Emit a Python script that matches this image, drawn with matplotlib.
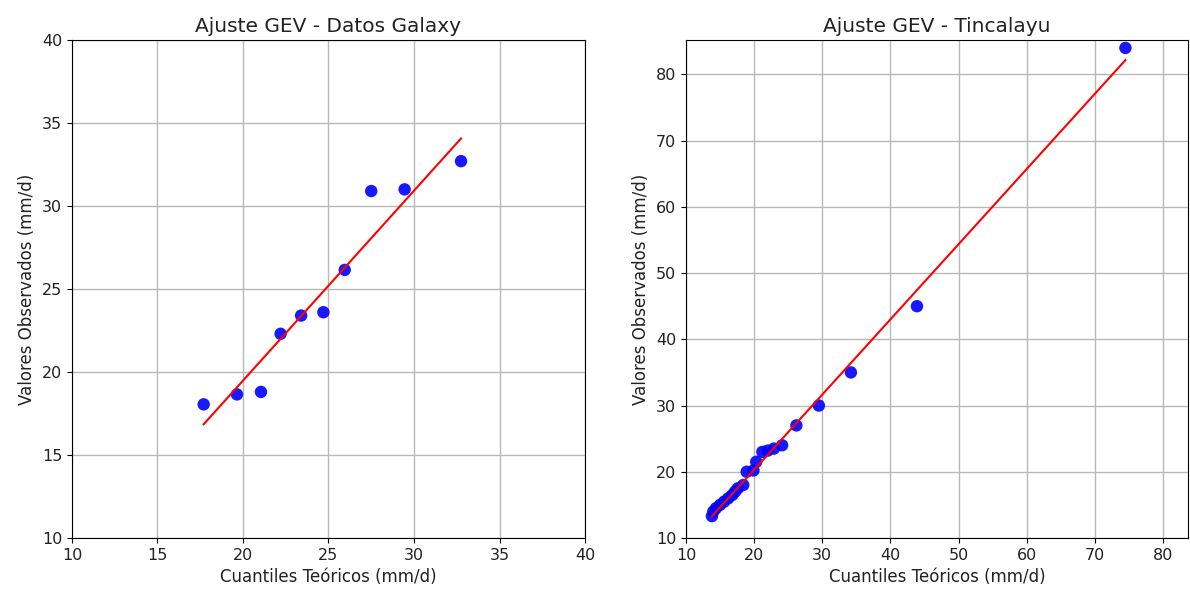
import matplotlib
matplotlib.use('Agg')
import matplotlib.pyplot as plt
import numpy as np

plt.rcParams['font.family'] = ['DejaVu Sans']

# Datos Galaxy
teo_galaxy = np.array([17.7, 19.65, 21.05, 22.2, 23.4, 24.7, 25.95, 27.5, 29.45, 32.75])
obs_galaxy = np.array([18.05, 18.65, 18.8, 22.3, 23.4, 23.6, 26.15, 30.9, 31.0, 32.7])

# Tincalayu
teo_tinca = np.array([13.8, 14.0, 14.4, 15.0, 15.6, 16.2, 16.8, 17.2, 17.6, 18.4, 18.9,
                      19.9, 20.3, 21.2, 22.0, 22.9, 24.1, 26.2, 29.5, 34.2, 43.9, 74.5])
obs_tinca = np.array([13.3, 14.0, 14.5, 15.0, 15.5, 16.0, 16.5, 17.0, 17.5, 18.0, 20.0,
                      20.2, 21.5, 23.0, 23.2, 23.5, 24.0, 27.0, 30.0, 35.0, 45.0, 84.0])

fig = plt.figure(figsize=(11.9, 5.95), dpi=100)
ax1 = fig.add_axes([0.0605, 0.0958, 0.4311, 0.8370])
ax2 = fig.add_axes([0.5765, 0.0958, 0.4219, 0.8370])

def qq(ax, teo, obs, titulo):
    ax.scatter(teo, obs, color='blue', s=80, alpha=0.9, edgecolors='none', zorder=3)
    m, b = np.polyfit(teo, obs, 1)
    xs = np.array([teo.min(), teo.max()])
    ax.plot(xs, m * xs + b, color='red', lw=1.5, zorder=4)
    ax.set_title(titulo, fontsize=14.5, color='#222222')
    ax.set_xlabel('Cuantiles Teóricos (mm/d)', fontsize=12, color='#222222')
    ax.set_ylabel('Valores Observados (mm/d)', fontsize=12, color='#222222')
    ax.tick_params(labelsize=11.5, labelcolor='#222222')
    ax.grid(True, color='#b8b8b8', lw=1)
    ax.set_axisbelow(True)

qq(ax1, teo_galaxy, obs_galaxy, 'Ajuste GEV - Datos Galaxy')
ax1.set_xlim(10, 40)
ax1.set_ylim(10, 40)

qq(ax2, teo_tinca, obs_tinca, 'Ajuste GEV - Tincalayu')
ax2.set_xlim(10, 83.7)
ax2.set_ylim(10, 85.2)
ax2.set_xticks(np.arange(10, 81, 10))
ax2.set_yticks(np.arange(10, 81, 10))

fig.savefig('out.png', dpi=100)
